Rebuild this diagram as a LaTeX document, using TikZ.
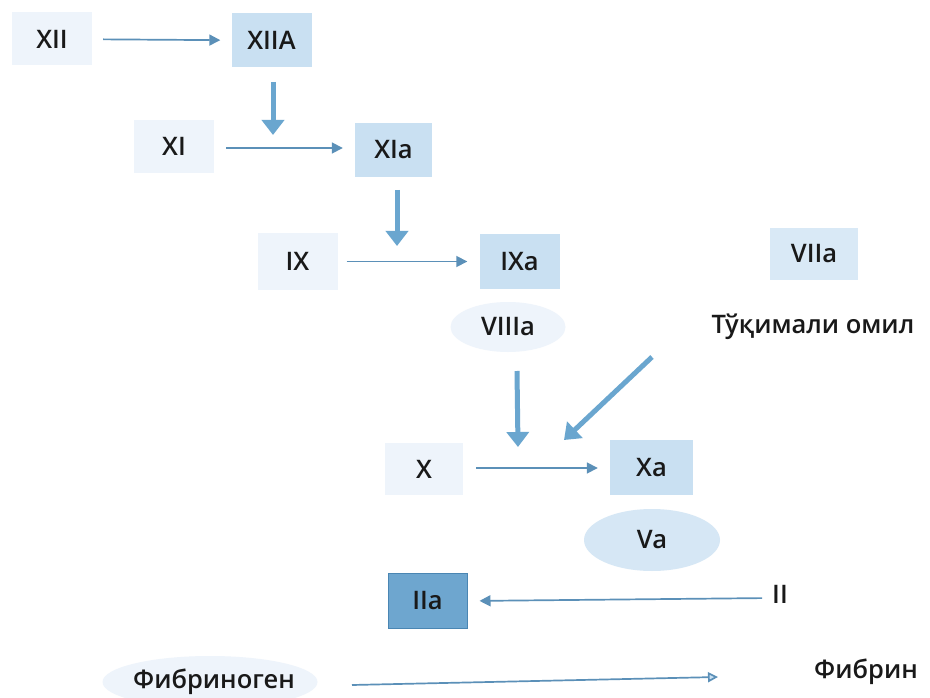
\documentclass[tikz,border=0pt]{standalone}
\usepackage{fontspec}
\setmainfont{Open Sans}[UprightFont=* Semibold]
\usetikzlibrary{arrows.meta,shapes.geometric}
\definecolor{paleb}{HTML}{EEF4FB}
\definecolor{lightb}{HTML}{C9E0F2}
\definecolor{midb}{HTML}{6EA6CF}
\definecolor{edgeb}{HTML}{4A86B3}
\definecolor{arr}{HTML}{5B90B8}
\definecolor{thickarr}{HTML}{6AA6CF}
\definecolor{ell}{HTML}{D6E7F5}
\tikzset{
  lbl/.style={font=\fontsize{25.5}{29}\selectfont, text=black!90, inner sep=0pt},
  palebox/.style={lbl, fill=paleb, minimum width=80pt, minimum height=53pt},
  lightbox/.style={lbl, fill=lightb, minimum width=80pt, minimum height=54pt},
  ellnode/.style={lbl, ellipse, fill=ell},
  thin/.style={draw=arr, line width=1.7pt, -{Triangle[length=11pt,width=11pt]}},
  thick/.style={draw=thickarr, line width=5pt, -{Triangle[length=15pt,width=22pt]}},
}
\begin{document}
\begin{tikzpicture}[x=1pt,y=-1pt]
\useasboundingbox (0,0) rectangle (930,698);
\fill[white] (0,0) rectangle (930,698);
% nodes
\node[palebox] (XII) at (52,39) {XII};
\node[lightbox] (XIIA) at (271.5,40.5) {XIIA};
\node[palebox] (XI) at (174,146.5) {XI};
\node[lightbox, minimum width=77pt] (XIa) at (393.5,150) {XIa};
\node[palebox, minimum height=57pt] (IX) at (297.5,261.5) {IX};
\node[lightbox, minimum height=55pt] (IXa) at (519.5,261.5) {IXa};
\node[ellnode, fill=paleb, minimum width=115pt, minimum height=50pt] (VIIIa) at (508,327) {VIIIa};
\node[lightbox, fill=lightb!70, minimum width=88pt, minimum height=52pt] (VIIa) at (814,254) {VIIa};
\node[lbl] (TF) at (813,327) {Тўқимали омил};
\node[palebox, minimum width=78pt, minimum height=52pt] (X) at (424,469) {X};
\node[lightbox, minimum width=83pt, minimum height=55pt] (Xa) at (651.5,467.5) {Xa};
\node[ellnode, minimum width=136pt, minimum height=62pt] (Va) at (652,540) {Va};
\node[lbl, fill=midb, draw=edgeb, line width=1pt, minimum width=79pt, minimum height=55pt] (IIa) at (427.5,600.5) {IIa};
\node[lbl] (II) at (780,594) {II};
\node[ellnode, fill=paleb, minimum width=215pt, minimum height=52pt] (Fg) at (210,682) {};
\node[lbl] (FgT) at (214,682) {Фибриноген};
\node[lbl] (Fb) at (866,672) {Фибрин};
% thin arrows
\draw[thin, shorten <=11pt, shorten >=11pt] (XII) -- (XIIA);
\draw[thin, shorten <=12pt, shorten >=12pt] (XI.east |- 0,148) -- (XIa.west |- 0,148);
\draw[thin, shorten <=9pt, shorten >=12pt] (IX) -- (IXa);
\draw[thin, shorten <=13pt, shorten >=12pt] (X.east |- 0,468) -- (Xa.west |- 0,468);
\draw[thin, shorten <=10pt, shorten >=12pt] (II.west |- 0,598) -- (IIa.east |- 0,601);
\coordinate (f1) at (352,685);
\coordinate (f2) at (718,677);
\draw[draw=arr, line width=1.7pt, -{Triangle[length=10pt,width=10pt,fill=lightb]}] (f1) -- (f2);
% thick arrows
\coordinate (t1a) at (273,82); \coordinate (t1b) at (273,135);
\coordinate (t2a) at (397,190); \coordinate (t2b) at (397,246);
\coordinate (t3a) at (517,371); \coordinate (t3b) at (518,447);
\coordinate (t4a) at (652,357); \coordinate (t4b) at (564,440);
\draw[thick] (t1a) -- (t1b);
\draw[thick] (t2a) -- (t2b);
\draw[thick] (t3a) -- (t3b);
\draw[thick] (t4a) -- (t4b);
\end{tikzpicture}
\end{document}
